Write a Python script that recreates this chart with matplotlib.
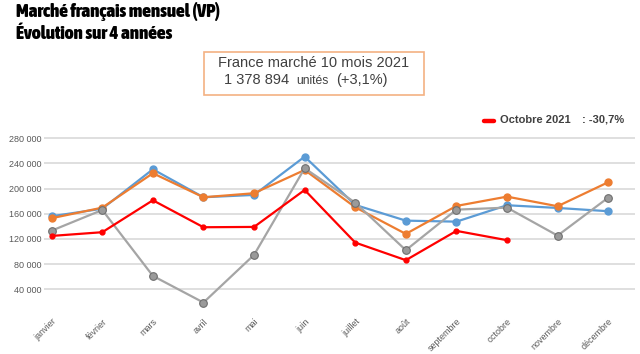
import matplotlib
matplotlib.use("Agg")
import matplotlib.pyplot as plt
from matplotlib import font_manager as fm
from matplotlib.ticker import FuncFormatter
from matplotlib.patches import Rectangle
from matplotlib.lines import Line2D

months = ["janvier", "février", "mars", "avril", "mai", "juin", "juillet",
          "août", "septembre", "octobre", "novembre", "décembre"]
s2018 = [156000, 168000, 230700, 186200, 189900, 250800, 174000, 149000, 147400, 173500, 169200, 164000]
s2019 = [152900, 169700, 224400, 186200, 192600, 229600, 170300, 127900, 172400, 187200, 171900, 210100]
s2020 = [133100, 166000, 61100, 18700, 94500, 232300, 177600, 102000, 166500, 169700, 125200, 185600]
s2021 = [124700, 130600, 181400, 138500, 139000, 197800, 114100, 86100, 132700, 117900]
yticks = [40000, 80000, 120000, 160000, 200000, 240000, 280000]
title1 = "Marché français mensuel (VP)"
title2 = "Évolution sur 4 années"


def pick_condensed_bold():
    best, best_score = None, -1
    for f in fm.fontManager.ttflist:
        fn = f.fname.lower().replace("-", "").replace("_", "")
        if "italic" in fn or "oblique" in fn:
            continue
        cond = ("condensed" in fn or "narrow" in fn or
                f.stretch in ("condensed", "semi-condensed", "extra-condensed", "ultra-condensed"))
        if not cond:
            continue
        w = f.weight if isinstance(f.weight, int) else 400
        if "black" in fn or "extrabold" in fn:
            w = max(w, 800)
        elif "bold" in fn and "semibold" not in fn:
            w = max(w, 700)
        if w < 700:
            continue
        score = 10
        if "extracondensed" in fn or "ultracondensed" in fn:
            score += 2
        elif "semicondensed" in fn:
            score += 1
        else:
            score += 6
        if "black" in fn:
            score += 3
        elif "extrabold" in fn:
            score += 2
        if score > best_score:
            best, best_score = f, score
    return best


W, H = 640, 354
fig = plt.figure(figsize=(W / 100, H / 100), dpi=100)
fig.patch.set_facecolor("white")

x_left, x_right = 44, 635
y0_px, y280_px = 314.3, 138.3
ymax = 300000
ytop_px = y0_px - (y0_px - y280_px) * ymax / 280000
ax = fig.add_axes([x_left / W, 1 - y0_px / H, (x_right - x_left) / W, (y0_px - ytop_px) / H])
ax.set_xlim(-0.152, 11.53)
ax.set_ylim(0, ymax)
for sp in ax.spines.values():
    sp.set_visible(False)
ax.set_yticks(yticks)
ax.yaxis.set_major_formatter(FuncFormatter(lambda v, p: f"{int(v):,}".replace(",", " ")))
ax.grid(axis="y", color="#D6D6D6", linewidth=1.1)
ax.set_axisbelow(True)
ax.tick_params(axis="y", length=0, labelsize=6.5, labelcolor="#595959", pad=2)
ax.tick_params(axis="x", length=0, labelsize=6.5, labelcolor="#595959", pad=2)
x = list(range(12))
ax.set_xticks(x)
ax.set_xticklabels(months, rotation=45, ha="right", rotation_mode="anchor")
for lab in ax.get_xticklabels() + ax.get_yticklabels():
    lab.set_family(["Liberation Sans", "DejaVu Sans"])

ax.plot(x, s2018, color="#5B9BD5", lw=1.6, marker="o", ms=5, mfc="#5B9BD5", mec="#5B9BD5", zorder=3)
ax.plot(x, s2019, color="#ED7D31", lw=1.6, marker="o", ms=5, mfc="#ED7D31", mec="#ED7D31", zorder=3)
ax.plot(x, s2020, color="#A5A5A5", lw=1.6, marker="o", ms=5.5, mfc="#9A9A9A", mec="#6E6E6E", mew=0.8, zorder=4)
ax.plot(x[:len(s2021)], s2021, color="#FF0000", lw=1.6, marker="o", ms=3.5, mfc="#FF0000", mec="#FF0000", zorder=5)

# titles
f = pick_condensed_bold()
if f is not None:
    tprops = dict(fontproperties=fm.FontProperties(fname=f.fname))
else:
    tprops = dict(family=["Liberation Sans", "DejaVu Sans"], fontweight="bold")
t1 = fig.text(16 / W, 1 - 17 / H, title1, fontsize=12.5, ha="left", va="baseline", color="black", **tprops)
t2 = fig.text(16 / W, 1 - 39.3 / H, title2, fontsize=12.5, ha="left", va="baseline", color="black", **tprops)
fig.canvas.draw()
wpx = t1.get_window_extent().width
fs = min(13.6, 12.5 * 219.0 / wpx)
t1.set_fontsize(fs)
t2.set_fontsize(fs)

# info box
fig.patches.append(Rectangle((204 / W, 1 - 95 / H), 220 / W, 43 / H, transform=fig.transFigure,
                             fill=False, edgecolor="#F4B183", linewidth=1.2))
bfont = ["Liberation Sans", "DejaVu Sans"]
fig.text(314 / W, 1 - 66.7 / H, "France marché 10 mois 2021", fontsize=10.5, family=bfont,
         ha="center", va="baseline", color="#404040")
fig.text(224 / W, 1 - 84 / H, "1 378 894", fontsize=10.5, family=bfont, ha="left", va="baseline", color="#404040")
fig.text(296 / W, 1 - 84 / H, "unités", fontsize=8.7, family=bfont, ha="left", va="baseline", color="#404040")
fig.text(336 / W, 1 - 84 / H, "(+3,1%)", fontsize=10.5, family=bfont, ha="left", va="baseline", color="#404040")

# legend
fig.lines.append(Line2D([484 / W, 494 / W], [1 - 120.5 / H, 1 - 120.5 / H], transform=fig.transFigure,
                        color="#FF0000", linewidth=3.2, solid_capstyle="round"))
fig.text(500 / W, 1 - 123 / H, "Octobre 2021", fontsize=8, fontweight="bold", family=bfont,
         ha="left", va="baseline", color="#404040")
fig.text(582 / W, 1 - 123 / H, ": -30,7%", fontsize=8, fontweight="bold", family=bfont,
         ha="left", va="baseline", color="#404040")

fig.savefig("out.png", dpi=100)
